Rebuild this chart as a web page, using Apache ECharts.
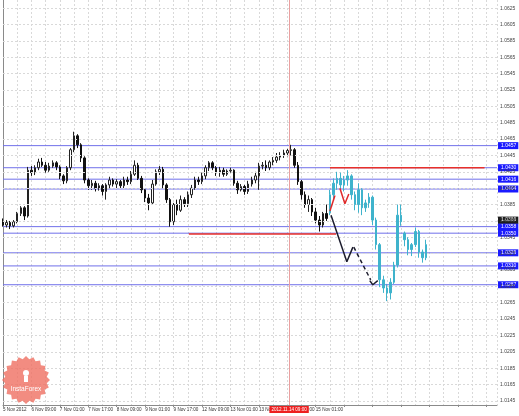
<!DOCTYPE html>
<html><head><meta charset="utf-8">
<script src="https://cdn.jsdelivr.net/npm/echarts@6/dist/echarts.min.js"></script>
<style>html,body{margin:0;padding:0;background:#fff}#c{width:519px;height:416px}</style>
</head><body><div id="c"></div>
<script>
// ---- tick labels ----
const yTickLabels = ['1.0625','1.0605','1.0585','1.0565','1.0545','1.0525','1.0505','1.0485','1.0465','1.0445',
  '1.0425','1.0405','1.0385','1.0365','1.0345','1.0325','1.0305','1.0285','1.0265','1.0245',
  '1.0225','1.0205','1.0185','1.0165','1.0145'];
const xTickLabels = ['5 Nov 2012','6 Nov 09:00','7 Nov 01:00','7 Nov 17:00','8 Nov 09:00','9 Nov 01:00',
  '9 Nov 17:00','12 Nov 09:00','13 Nov 01:00','13 Nov 17:00','14 Nov 09:00','15 Nov 01:00'];

// ---- history (2-hour candles, x = hour index) ----
const histT = [0,2,4,6,8,10,12,14,16,18,20,22,24,26,28,30,32,34,36,38,40,42,44,46,48,50,52,54,56,58,
  60,62,64,66,68,70,72,74,76,78,80,82,84,86,88,90,92,94,96,98,100,102,104,106,108,110,112,114,116,118,
  120,122,124,126,128,130,132,134,136,138,140,142,144,146,148,150,152,154,156,158,160,162,164,166,168,170,
  172,174,176,178,180,182];
const histOpen = [1.0364,1.0360,1.0363,1.0359,1.0364,1.0374,1.0381,1.0371,1.0427,1.0424,
  1.0430,1.0437,1.0433,1.0427,1.0432,1.0436,1.0431,1.0420,1.0414,1.0430,
  1.0452,1.0469,1.0458,1.0442,1.0415,1.0408,1.0411,1.0405,1.0408,1.0401,
  1.0409,1.0415,1.0410,1.0413,1.0408,1.0415,1.0413,1.0422,1.0433,1.0417,
  1.0403,1.0393,1.0387,1.0410,1.0425,1.0428,1.0409,1.0391,1.0364,1.0385,
  1.0378,1.0391,1.0386,1.0397,1.0405,1.0415,1.0413,1.0420,1.0430,1.0436,
  1.0430,1.0424,1.0427,1.0422,1.0426,1.0427,1.0411,1.0403,1.0407,1.0401,
  1.0410,1.0415,1.0420,1.0432,1.0433,1.0430,1.0437,1.0439,1.0443,1.0445,
  1.0448,1.0451,1.0452,1.0433,1.0413,1.0397,1.0385,1.0391,1.0376,1.0366,
  1.0360,1.0374];
const histClose = [1.0360,1.0363,1.0359,1.0364,1.0374,1.0381,1.0371,1.0427,1.0424,1.0430,
  1.0437,1.0433,1.0427,1.0432,1.0436,1.0431,1.0420,1.0414,1.0430,1.0452,
  1.0469,1.0458,1.0442,1.0415,1.0408,1.0411,1.0405,1.0408,1.0401,1.0409,
  1.0415,1.0410,1.0413,1.0408,1.0415,1.0413,1.0422,1.0433,1.0417,1.0403,
  1.0393,1.0387,1.0410,1.0425,1.0428,1.0409,1.0391,1.0364,1.0385,1.0378,
  1.0391,1.0386,1.0397,1.0405,1.0415,1.0413,1.0420,1.0430,1.0436,1.0430,
  1.0424,1.0427,1.0422,1.0426,1.0427,1.0411,1.0403,1.0407,1.0401,1.0410,
  1.0415,1.0420,1.0432,1.0433,1.0430,1.0437,1.0439,1.0443,1.0445,1.0448,
  1.0451,1.0452,1.0433,1.0413,1.0397,1.0385,1.0391,1.0376,1.0366,1.0360,
  1.0374,1.0368];
const histLow = [1.0358,1.0357,1.0355,1.0357,1.0362,1.0371,1.0366,1.0369,1.0420,1.0421,
  1.0427,1.0431,1.0424,1.0425,1.0430,1.0427,1.0416,1.0410,1.0411,1.0427,
  1.0449,1.0454,1.0437,1.0411,1.0403,1.0403,1.0401,1.0402,1.0396,1.0391,
  1.0405,1.0407,1.0405,1.0404,1.0405,1.0409,1.0410,1.0420,1.0415,1.0399,
  1.0388,1.0378,1.0385,1.0408,1.0421,1.0405,1.0387,1.0358,1.0360,1.0372,
  1.0376,1.0382,1.0382,1.0393,1.0403,1.0409,1.0410,1.0416,1.0426,1.0427,
  1.0420,1.0419,1.0419,1.0420,1.0424,1.0408,1.0398,1.0401,1.0397,1.0398,
  1.0407,1.0411,1.0403,1.0428,1.0426,1.0427,1.0433,1.0436,1.0439,1.0442,
  1.0444,1.0445,1.0430,1.0409,1.0391,1.0381,1.0376,1.0371,1.0362,1.0352,
  1.0357,1.0365];
const histHigh = [1.0368,1.0366,1.0365,1.0366,1.0376,1.0383,1.0383,1.0431,1.0432,1.0433,
  1.0441,1.0442,1.0437,1.0436,1.0439,1.0438,1.0433,1.0422,1.0432,1.0454,
  1.0474,1.0471,1.0460,1.0444,1.0417,1.0415,1.0414,1.0411,1.0410,1.0411,
  1.0419,1.0417,1.0416,1.0415,1.0419,1.0419,1.0426,1.0439,1.0436,1.0420,
  1.0405,1.0398,1.0415,1.0428,1.0432,1.0431,1.0411,1.0393,1.0387,1.0391,
  1.0396,1.0394,1.0401,1.0409,1.0419,1.0419,1.0424,1.0433,1.0438,1.0438,
  1.0432,1.0431,1.0430,1.0428,1.0430,1.0428,1.0414,1.0410,1.0409,1.0414,
  1.0419,1.0425,1.0436,1.0437,1.0439,1.0439,1.0443,1.0448,1.0449,1.0452,
  1.0453,1.0458,1.0454,1.0437,1.0415,1.0401,1.0396,1.0393,1.0381,1.0371,
  1.0376,1.0385];

// ---- forecast (cyan) ----
const fcT = [184,186,188,190,192,194,196,198,200,202,204,206,208,210,212,214,216,218,220,222,224,226,228,230,232,234,236,238];
const fcOpen = [1.0375,1.0397,1.0411,1.0417,1.0409,1.0415,1.0420,1.0397,1.0385,1.0403,
  1.0381,1.0387,1.0394,1.0366,1.0336,1.0293,1.0283,1.0277,1.0290,1.0311,
  1.0372,1.0350,1.0342,1.0330,1.0336,1.0352,1.0327,1.0320];
const fcClose = [1.0397,1.0411,1.0417,1.0409,1.0415,1.0420,1.0397,1.0385,1.0403,1.0381,
  1.0387,1.0394,1.0366,1.0336,1.0293,1.0283,1.0277,1.0290,1.0311,1.0372,
  1.0364,1.0342,1.0330,1.0336,1.0352,1.0327,1.0320,1.0336];
const fcLow = [1.0372,1.0391,1.0403,1.0403,1.0401,1.0408,1.0391,1.0378,1.0375,1.0372,
  1.0376,1.0381,1.0360,1.0330,1.0284,1.0277,1.0267,1.0269,1.0288,1.0308,
  1.0359,1.0334,1.0323,1.0322,1.0333,1.0320,1.0314,1.0317];
const fcHigh = [1.0403,1.0417,1.0425,1.0424,1.0420,1.0427,1.0422,1.0401,1.0411,1.0405,
  1.0391,1.0399,1.0396,1.0369,1.0338,1.0298,1.0288,1.0295,1.0315,1.0385,
  1.0385,1.0352,1.0345,1.0338,1.0357,1.0354,1.0330,1.0342];

// ---- levels ----
const levelValues = [1.0457,1.0430,1.0416,1.0404,1.0358,1.0350,1.0326,1.0310,1.0287];
const currentPrice = 1.0366;
const markerT = 161;
const markerLabel = '2012.11.14 09:00';
const resistanceSeg = [[184,1.0430],[271,1.0430]];
const supportSeg = [[104.6,1.0349],[187.4,1.0349]];
const blackSolid = [[184.6,1.0372],[193.5,1.0315],[196.9,1.0333]];
const blackDashed = [[197.4,1.0333],[206.9,1.0293]];
const blackTail = [[206.4,1.0292],[208.1,1.0287],[210.9,1.0292]];
const redUp = [[184.0,1.0377],[186.8,1.0396]];
const redZig = [[189.6,1.0405],[192.4,1.0386],[194.6,1.0398]];
const X_MIN = 0, X_MAX = 278;

const histData = histT.map((t,i)=>[t,histOpen[i],histClose[i],histLow[i],histHigh[i]]);
const fcData = fcT.map((t,i)=>[t,fcOpen[i],fcClose[i],fcLow[i],fcHigh[i]]);

const FONT = 'Liberation Sans';
const gridML = yTickLabels.map(s=>({yAxis: parseFloat(s), label:{formatter: s}}));

function levelSeries(v, bg, lineOpacity){
  return {type:'line', data:[[X_MIN,v],[X_MAX,v]], z:3, symbol:'none', silent:true,
    lineStyle:{color:'#7070ea', width:1, opacity:lineOpacity},
    endLabel:{show:true, distance:1, formatter:()=>v.toFixed(4), fontSize:5, fontFamily:FONT,
      color:'#fff', backgroundColor:bg, padding:[1,2,1,3]}};
}
const levelSeriesList = levelValues.map(v=>levelSeries(v,'#1a1aff',1));
levelSeriesList.push(levelSeries(currentPrice,'#1e1e1e',0));

// logo star polygon (decoration)
const star = [];
const cx = 26, cy = 380;
for (let i=0;i<40;i++){ const a = i/40*Math.PI*2; const r = i%2? 21:24; star.push([cx+r*Math.cos(a), cy+r*Math.sin(a)]); }

const chart = echarts.init(document.getElementById('c'), null, {renderer:'canvas'});
chart.setOption({
  animation:false,
  backgroundColor:'#ffffff',
  grid:{left:0,right:22,top:0,bottom:11,containLabel:false},
  xAxis:{type:'value',min:X_MIN,max:X_MAX,interval:16,
    axisLine:{show:true,lineStyle:{color:'#8a8a8a'}},
    axisTick:{show:true,length:2,lineStyle:{color:'#8a8a8a'}},
    axisLabel:{formatter:v=>xTickLabels[v/16]||'',fontSize:4.6,fontFamily:FONT,color:'#333',align:'left',margin:2,showMaxLabel:false},
    splitLine:{show:true,lineStyle:{type:[2,2],color:'#d9d9d9'}},
    minorTick:{show:false,splitNumber:2},
    minorSplitLine:{show:true,lineStyle:{type:[2,2],color:'#d9d9d9'}}
  },
  yAxis:{type:'value',position:'right',min:1.0140,max:1.0635,
    axisLine:{show:true,lineStyle:{color:'#8a8a8a'}},
    axisLabel:{show:false},axisTick:{show:false},splitLine:{show:false}},
  graphic:[
    {type:'polygon',shape:{points:star},style:{fill:'#ef6f62',opacity:0.8},z:50},
    {type:'circle',shape:{cx:26,cy:373,r:3},style:{fill:'#fff'},z:51},
    {type:'rect',shape:{x:24,y:376,width:4,height:6},style:{fill:'#fff'},z:51},
    {type:'text',x:26,y:389,style:{text:'InstaForex',fill:'#fff',font:'6.5px "Liberation Sans"',align:'center',verticalAlign:'middle'},z:51}
  ],
  series:[
    {type:'line',data:[],z:1,silent:true,
      markLine:{silent:true,symbol:'none',animation:false,precision:4,
        lineStyle:{type:[2,2],color:'#d9d9d9',width:1},
        label:{position:'end',distance:3,fontSize:5,fontFamily:FONT,color:'#444'},
        data:gridML.concat([{xAxis:markerT,lineStyle:{type:'solid',color:'#eaa0a0',width:1},
          label:{position:'start',distance:1,formatter:markerLabel,backgroundColor:'#ee2020',color:'#fff',fontSize:4.6,padding:[1,2]}}])}},
    ...levelSeriesList,
    {type:'candlestick',data:histData,z:4,barWidth:2,
      itemStyle:{color:'#ffffff',color0:'#111111',borderColor:'#222222',borderColor0:'#111111',borderWidth:1}},
    {type:'candlestick',data:fcData,z:5,barWidth:2,
      itemStyle:{color:'#3fb3cc',color0:'#3fb3cc',borderColor:'#3fb3cc',borderColor0:'#3fb3cc',borderWidth:1}},
    {type:'line',data:resistanceSeg,z:6,symbol:'none',lineStyle:{color:'#e8302a',width:1.5}},
    {type:'line',data:supportSeg,z:6,symbol:'none',lineStyle:{color:'#e8302a',width:1.5}},
    {type:'line',data:blackSolid,z:7,symbol:'none',lineStyle:{color:'#1d1d2e',width:1.5}},
    {type:'line',data:blackDashed,z:7,symbol:'none',lineStyle:{color:'#1d1d2e',width:1.5,type:[4,3]}},
    {type:'line',data:blackTail,z:7,symbol:'none',lineStyle:{color:'#1d1d2e',width:1.5}},
    {type:'line',data:redUp,z:7,symbol:'none',lineStyle:{color:'#e02a2a',width:1.5}},
    {type:'line',data:redZig,z:7,symbol:'none',lineStyle:{color:'#e02a2a',width:1.5}}
  ]
});
</script></body></html>
